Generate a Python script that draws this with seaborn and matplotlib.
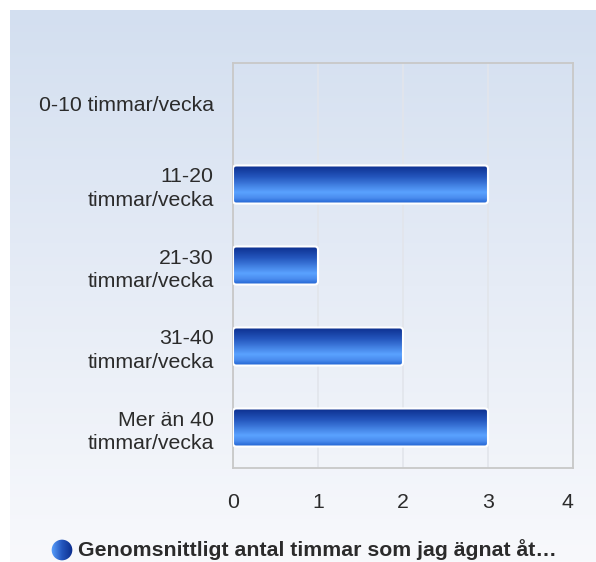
import numpy as np
import pandas as pd
import seaborn as sns
import matplotlib.pyplot as plt
from matplotlib.colors import LinearSegmentedColormap
from matplotlib.patches import FancyBboxPatch, Circle

categories = ["0-10 timmar/vecka", "11-20\ntimmar/vecka", "21-30\ntimmar/vecka",
              "31-40\ntimmar/vecka", "Mer än 40\ntimmar/vecka"]
values = [0, 3, 1, 2, 3]
x_ticks = [0, 1, 2, 3, 4]
series_name = "Genomsnittligt antal timmar som jag ägnat åt…"

sns.set_theme(style="white")
plt.rcParams['font.family'] = ['Liberation Sans', 'DejaVu Sans']

W, H = 596, 562
fig = plt.figure(figsize=(W / 100, H / 100), dpi=100)
fig.patch.set_facecolor('white')

# background panel with vertical gradient
bg_ax = fig.add_axes([10 / W, 0, (W - 10) / W, (H - 10) / H], zorder=0)
bg_cmap = LinearSegmentedColormap.from_list('bg', ['#d3dff0', '#e6ecf6', '#f8f9fc'])
bg_ax.imshow(np.linspace(0, 1, 256).reshape(-1, 1), cmap=bg_cmap, aspect='auto',
             extent=(0, 1, 0, 1))
bg_ax.axis('off')

ax = fig.add_axes([233 / W, 1 - 468 / H, 340 / W, 405 / H], zorder=1)
ax.patch.set_alpha(0)

df = pd.DataFrame({'category': categories, 'value': values})
sns.barplot(data=df, x='value', y='category', orient='h', width=0.47, ax=ax)

bar_cmap = LinearSegmentedColormap.from_list(
    'bar', [(0.0, '#0b2d8c'), (0.3, '#2456bd'), (0.7, '#5aa2ff'),
            (0.85, '#4a8cee'), (1.0, '#1a5ccd')])
grad = np.linspace(0, 1, 128).reshape(-1, 1)

for p in list(ax.patches):
    x0, y0, w, h = p.get_x(), p.get_y(), p.get_width(), p.get_height()
    p.set_visible(False)
    if w <= 0:
        continue
    box = FancyBboxPatch((x0, y0), w, h, boxstyle="round,pad=0,rounding_size=0.04",
                         mutation_aspect=85 / 81, facecolor='none',
                         edgecolor='white', linewidth=1.5, zorder=4)
    ax.add_patch(box)
    im = ax.imshow(grad, cmap=bar_cmap, aspect='auto', origin='upper',
                   extent=(x0, x0 + w, y0 + h, y0), zorder=3)
    im.set_clip_path(box)

ax.set_xlim(0, 4)
ax.set_ylim(4.5, -0.5)
ax.set_xticks(x_ticks)
ax.set_xticklabels([str(t) for t in x_ticks])
ax.get_xticklabels()[-1].set_horizontalalignment('right')
ax.set_xlabel('')
ax.set_ylabel('')
ax.grid(axis='x', color='#e2e5eb', linewidth=1.2)
ax.set_axisbelow(True)
for s in ax.spines.values():
    s.set_color('#c8c8c8')
    s.set_linewidth(1.3)
ax.tick_params(axis='x', length=0, pad=18, labelsize=15.3, labelcolor='#2b2b2b')
ax.tick_params(axis='y', length=0, pad=14, labelsize=15.3, labelcolor='#2b2b2b')
for lbl in ax.get_yticklabels():
    lbl.set_multialignment('right')
    lbl.set_linespacing(1.3)

# legend marker: circle with horizontal gradient
leg_ax = fig.add_axes([51 / W, 1 / H, 22 / W, 22 / H], zorder=2)
leg_cmap = LinearSegmentedColormap.from_list('leg', ['#5aa2ff', '#2456bd', '#0b2d8c'])
leg_im = leg_ax.imshow(np.linspace(0, 1, 64).reshape(1, -1), cmap=leg_cmap,
                       aspect='auto', extent=(0, 1, 0, 1))
circ = Circle((0.5, 0.5), 0.47, transform=leg_ax.transData)
leg_im.set_clip_path(circ)
leg_ax.set_xlim(0, 1)
leg_ax.set_ylim(0, 1)
leg_ax.axis('off')

fig.text(78 / W, 12 / H, series_name, ha='left', va='center', fontsize=15.3,
         fontweight='bold', color='#2b2b2b', zorder=3)

fig.savefig('out.png', dpi=100, facecolor='white')
